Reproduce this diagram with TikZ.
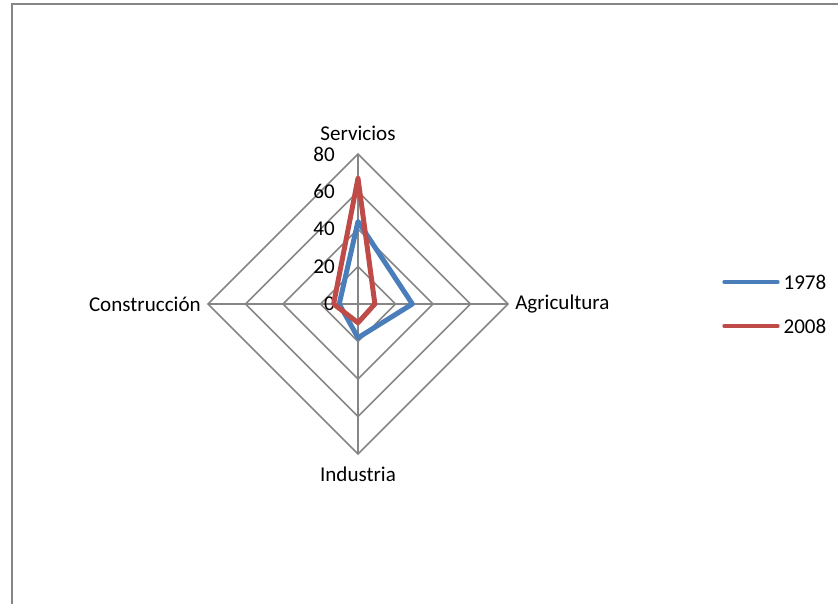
\documentclass[tikz,border=0pt]{standalone}
\usepackage{fontspec}
\setmainfont{Carlito}
\usepackage{tikz}
\definecolor{gridgray}{RGB}{134,134,134}
\definecolor{blue78}{RGB}{74,126,187}
\definecolor{red08}{RGB}{190,75,72}
\begin{document}
\begin{tikzpicture}[x=0.75pt,y=0.75pt]
\tikzstyle{every node}=[font=\fontsize{15.8}{19}\selectfont, inner sep=0pt];
\tikzstyle{grid}=[draw=gridgray, line width=1.1pt];
\tikzstyle{frame}=[draw=gridgray, line width=1.6pt];
\tikzstyle{serie}=[line width=3.75pt, line join=round];
\tikzstyle{legline}=[line width=2.4pt, line cap=round];
\useasboundingbox (-358,-300) rectangle (480,304);
\draw[frame] (-346,-300) -- (-346,300) -- (480,300);
% grid and axes
\foreach \r in {37.5,75,112.5,150}
{
\draw[grid] (90:\r) -- (0:\r) -- (270:\r) -- (180:\r) -- cycle;
}
\foreach \a/\n in {90/serv,0/agri,270/ind,180/cons}
{
\coordinate (\n) at (\a:150);
\draw[grid] (0,0) -- (\n);
}
\foreach \v in {0,20,...,80}
{
\path (-23,{\v*1.875}) node[anchor=east] (n\v) {\v};
}
\path (0,171) node (tserv) {Servicios}
(157,0) node[anchor=west] (tagri) {Agricultura}
(0,-170) node (tind) {Industria}
(-157,0) node[anchor=east] (tcons) {Construcción};
% series
\path (90:{44*1.875}) coordinate (b1) (0:{29*1.875}) coordinate (b2)
(270:{18*1.875}) coordinate (b3) (180:{10*1.875}) coordinate (b4);
\path (90:{67*1.875}) coordinate (r1) (0:{9*1.875}) coordinate (r2)
(270:{10*1.875}) coordinate (r3) (180:{13*1.875}) coordinate (r4);
\draw[serie, blue78] (b1) -- (b2) -- (b3) -- (b4) -- cycle;
\draw[serie, red08] (r1) -- (r2) -- (r3) -- (r4) -- cycle;
% legend
\draw[legline, blue78] (366,22) -- ++(54,0) node[right=3pt, text=black] (k1) {1978};
\draw[legline, red08] (366,-22) -- ++(54,0) node[right=3pt, text=black] (k2) {2008};
\end{tikzpicture}
\end{document}
